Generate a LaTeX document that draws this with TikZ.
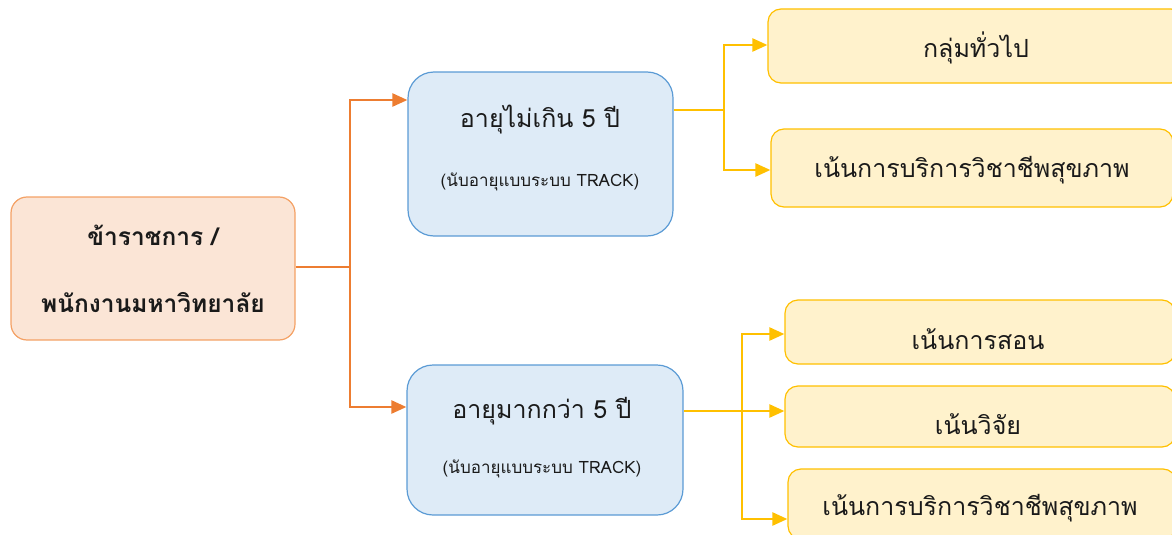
\documentclass[tikz,border=0pt]{standalone}
\usepackage{fontspec}
\setmainfont[Script=Thai]{Loma}
\usetikzlibrary{arrows.meta,calc}
\definecolor{orfill}{HTML}{FBE5D6}
\definecolor{ordraw}{HTML}{F4A165}
\definecolor{orline}{HTML}{ED7D31}
\definecolor{blfill}{HTML}{DEEBF7}
\definecolor{bldraw}{HTML}{5B9BD5}
\definecolor{yefill}{HTML}{FFF2CC}
\definecolor{yedraw}{HTML}{FFC000}
\definecolor{txt}{HTML}{1A1A1A}
\tikzset{
  box/.style={draw, line width=1.2pt, inner sep=0pt, anchor=center},
  orbox/.style={box, fill=orfill, draw=ordraw, rounded corners=16pt},
  blbox/.style={box, fill=blfill, draw=bldraw, rounded corners=26pt},
  yebox/.style={box, fill=yefill, draw=yedraw, rounded corners=13pt},
  lbl/.style={text=txt, inner sep=0pt, anchor=center},
  big/.style={lbl, font=\fontsize{25}{28}\selectfont},
  small/.style={lbl, font=\fontsize{17}{20}\selectfont},
  bold/.style={lbl, font=\fontsize{24.5}{28}\selectfont\bfseries},
  oarrow/.style={draw=orline, line width=2.4pt, -{Triangle[length=15pt,width=13pt]}},
  yarrow/.style={draw=yedraw, line width=2.4pt, -{Triangle[length=15pt,width=13pt]}},
  othin/.style={draw=orline, line width=1.2pt},
  ythin/.style={draw=yedraw, line width=1.4pt},
}
\begin{document}
\begin{tikzpicture}[x=1pt,y=-1pt]
\useasboundingbox (0,0) rectangle (1172,535);
\begin{scope}
\clip (0,0) rectangle (1172,535);
% boxes
\node[orbox, minimum width=284pt, minimum height=143pt] (L) at (153,268.5) {};
\node[blbox, minimum width=265pt, minimum height=164pt] (TM) at (540.5,154) {};
\node[blbox, minimum width=276pt, minimum height=150pt] (BM) at (545,440) {};
\node[yebox, minimum width=416pt, minimum height=74pt] (R1) at (976,46) {};
\node[yebox, minimum width=402pt, minimum height=78pt] (R2) at (972,168) {};
\node[yebox, minimum width=390pt, minimum height=64pt] (R3) at (980,332) {};
\node[yebox, minimum width=390pt, minimum height=61pt] (R4) at (980,416.5) {};
\node[yebox, minimum width=388pt, minimum height=70pt] (R5) at (982,504) {};
% texts
\node[bold] (Lt1) at (153,235) {ข้าราชการ /};
\node[bold] (Lt2) at (153,303) {พนักงานมหาวิทยาลัย};
\node[big] (TMt1) at (540,120) {อายุไม่เกิน 5 ปี};
\node[small] (TMt2) at (540,182) {(นับอายุแบบระบบ TRACK)};
\node[big] (BMt1) at (542,411) {อายุมากกว่า 5 ปี};
\node[small] (BMt2) at (542,469) {(นับอายุแบบระบบ TRACK)};
\node[big] (R1t) at (976,48) {กลุ่มทั่วไป};
\node[big] (R2t) at (972,170) {เน้นการบริการวิชาชีพสุขภาพ};
\node[big] (R3t) at (978,339) {เน้นการสอน};
\node[big] (R4t) at (978,424) {เน้นวิจัย};
\node[big] (R5t) at (980,508) {เน้นการบริการวิชาชีพสุขภาพ};
% junctions
\coordinate (jo) at (350,267);
\coordinate (jy1) at (724,110);
\coordinate (jy2) at (742,411);
% orange connectors
\draw[othin] (L.east |- jo) -- (jo);
\draw[oarrow] (jo) |- (TM.west |- 0,100);
\draw[oarrow] (jo) |- (BM.west |- 0,407);
% yellow connectors top
\draw[ythin] (TM.east |- jy1) -- (jy1);
\draw[yarrow] (jy1) |- (R1.west |- 0,45);
\draw[yarrow] (jy1) |- (R2.west |- 0,170);
% yellow connectors bottom
\draw[ythin] (BM.east |- jy2) -- (jy2);
\draw[yarrow] (jy2) |- (R3.west |- 0,334);
\draw[yarrow] (jy2) -- (R4.west |- jy2);
\draw[yarrow] (jy2) |- (R5.west |- 0,519);
\end{scope}
\end{tikzpicture}
\end{document}
